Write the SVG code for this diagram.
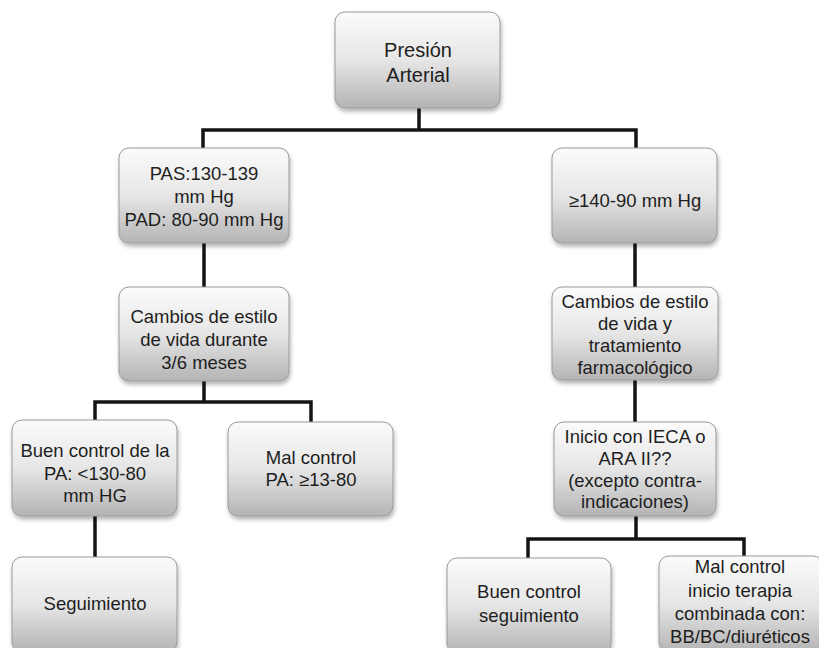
<svg xmlns="http://www.w3.org/2000/svg" width="819" height="648" viewBox="0 0 819 648">
<defs>
<linearGradient id="g" x1="0" y1="0" x2="0" y2="1">
<stop offset="0" stop-color="#fbfbfb"/>
<stop offset="0.5" stop-color="#e6e6e6"/>
<stop offset="1" stop-color="#b4b4b4"/>
</linearGradient>
<filter id="sh" x="-10%" y="-10%" width="120%" height="130%">
<feDropShadow dx="1" dy="3" stdDeviation="2" flood-color="#000" flood-opacity="0.3"/>
</filter>
</defs>
<style>
.box{fill:url(#g);stroke:#9a9a9a;stroke-width:1;filter:url(#sh)}
.t{font-family:"Liberation Sans",Arial,sans-serif;font-size:18.5px;fill:#1e1e1e;text-anchor:middle}
.big{font-size:20px}
.c{stroke:#141414;stroke-width:3.5;fill:none;stroke-linecap:square}
</style>
<rect width="819" height="648" fill="#ffffff"/>
<g id="connectors">
<path class="c" d="M419 108V130M203 148V130H636V148"/>
<path class="c" d="M204 243V287"/>
<path class="c" d="M635 243V287"/>
<path class="c" d="M204 381V402M95 420V402H311V422"/>
<path class="c" d="M635 380V422"/>
<path class="c" d="M95 516V557"/>
<path class="c" d="M636 516V539M528 558V539H744V556"/>
</g>
<g id="n1"><rect class="box" x="335" y="12" width="165" height="96" rx="10"/>
<text class="t big" x="418" y="57">Presión</text><text class="t big" x="418" y="82">Arterial</text></g>
<g id="n2"><rect class="box" x="119" y="148" width="170" height="95" rx="10"/>
<text class="t" x="204" y="180">PAS:130-139</text><text class="t" x="204" y="203">mm Hg</text><text class="t" x="204" y="226">PAD: 80-90 mm Hg</text></g>
<g id="n3"><rect class="box" x="552" y="148" width="165" height="95" rx="10"/>
<text class="t" x="635" y="207">≥140-90 mm Hg</text></g>
<g id="n4"><rect class="box" x="119" y="287" width="170" height="94" rx="10"/>
<text class="t" x="204" y="323">Cambios de estilo</text><text class="t" x="204" y="346">de vida durante</text><text class="t" x="204" y="369">3/6 meses</text></g>
<g id="n5"><rect class="box" x="552" y="287" width="166" height="93" rx="10"/>
<text class="t" x="635" y="308">Cambios de estilo</text><text class="t" x="635" y="330">de vida y</text><text class="t" x="635" y="352">tratamiento</text><text class="t" x="635" y="374">farmacológico</text></g>
<g id="n6"><rect class="box" x="12" y="420" width="165" height="96" rx="10"/>
<text class="t" x="95" y="457">Buen control de la</text><text class="t" x="95" y="480">PA: &lt;130-80</text><text class="t" x="95" y="502">mm HG</text></g>
<g id="n7"><rect class="box" x="228" y="422" width="165" height="94" rx="10"/>
<text class="t" x="311" y="464">Mal control</text><text class="t" x="311" y="486">PA: ≥13-80</text></g>
<g id="n8"><rect class="box" x="554" y="422" width="162" height="94" rx="10"/>
<text class="t" x="635" y="443">Inicio con IECA o</text><text class="t" x="635" y="465">ARA II??</text><text class="t" x="635" y="487">(excepto contra-</text><text class="t" x="635" y="508">indicaciones)</text></g>
<g id="n9"><rect class="box" x="12" y="557" width="165" height="95" rx="10"/>
<text class="t" x="95" y="610">Seguimiento</text></g>
<g id="n10"><rect class="box" x="447" y="558" width="164" height="95" rx="10"/>
<text class="t" x="529" y="598">Buen control</text><text class="t" x="529" y="622">seguimiento</text></g>
<g id="n11"><rect class="box" x="659" y="556" width="164" height="96" rx="10"/>
<text class="t" x="740" y="573">Mal control</text><text class="t" x="740" y="597">inicio terapia</text><text class="t" x="740" y="620">combinada con:</text><text class="t" x="740" y="643">BB/BC/diuréticos</text></g>
</svg>
